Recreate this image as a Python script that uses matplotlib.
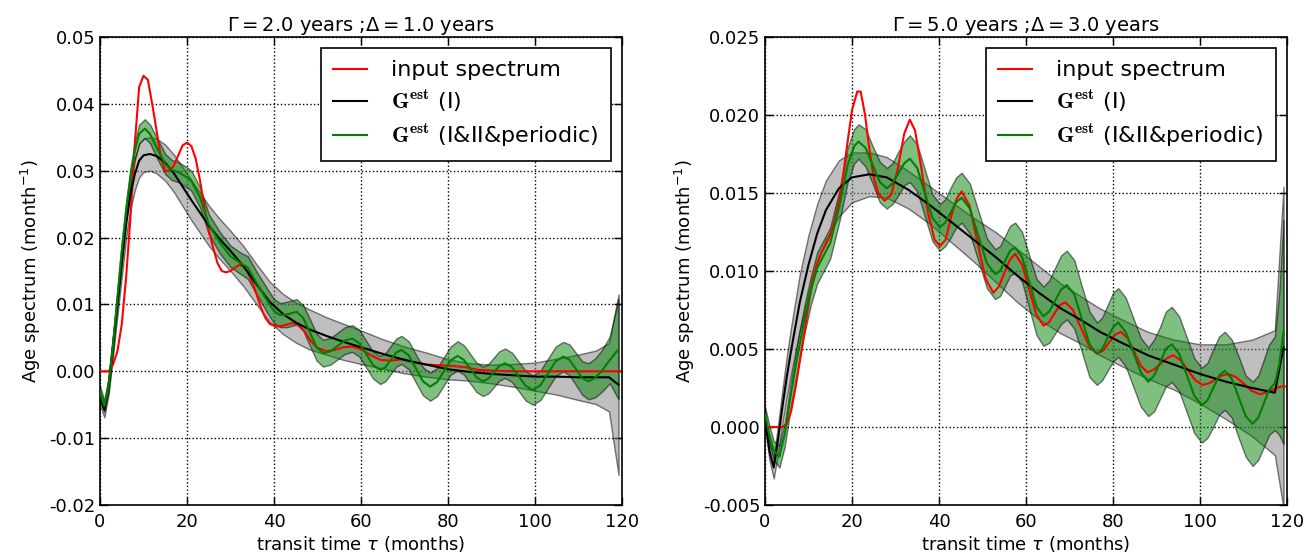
import matplotlib
matplotlib.use("Agg")
import matplotlib.pyplot as plt
from matplotlib.ticker import FormatStrFormatter
import numpy as np

# ---------------- Left panel data (Gamma=2, Delta=1) ----------------
L_red_x = [0, 2, 3, 4, 5, 6, 7, 8, 9, 10, 11, 12, 13, 14, 15, 16, 17, 18, 19, 20,
           21, 22, 23, 24, 25, 26, 27, 28, 29, 30, 31, 32, 33, 34, 35, 36, 37, 38, 39, 40.5,
           42, 44, 45.5, 47, 48.5, 50, 52, 54, 56, 58, 60, 62, 64.5, 67, 69.5, 72, 75, 78, 81, 84,
           87, 90, 95, 119.5]
L_red_y = [0, 0, 0.001, 0.003, 0.007, 0.014, 0.023, 0.034, 0.0425, 0.0442,
           0.0436, 0.040, 0.036, 0.032, 0.0300, 0.0300, 0.0308, 0.0323, 0.0338, 0.0342,
           0.0337, 0.0318, 0.0285, 0.0245, 0.0210, 0.0185, 0.0162, 0.0150, 0.0148, 0.0150,
           0.0155, 0.0159, 0.0157, 0.0148, 0.0133, 0.0115, 0.0095, 0.0080, 0.0071, 0.0067,
           0.0068, 0.0072, 0.0070, 0.0060, 0.0045, 0.0035, 0.0030, 0.0032, 0.0036, 0.0037,
           0.0033, 0.0025, 0.0017, 0.0016, 0.0018, 0.0014, 0.0010, 0.0009, 0.0008, 0.0006,
           0.0002, 0.0001, 0.0, 0.0]

L_blk_x = [0, 1, 2, 3, 4, 5, 6, 7, 8, 9, 10, 11.5, 13, 15, 17, 19, 21, 23, 25, 27.5,
           30, 33, 36, 39, 42, 45, 48, 52, 56, 60, 65, 70, 75, 80, 85, 90, 95, 100, 105, 110,
           114, 117, 119.2]
L_blk_y = [-0.004, -0.0058, -0.002, 0.004, 0.010, 0.016, 0.022, 0.0265, 0.0295, 0.0315,
           0.0323, 0.0325, 0.0322, 0.0312, 0.0296, 0.0276, 0.0256, 0.0237, 0.0218, 0.0198,
           0.0180, 0.0157, 0.0130, 0.0104, 0.0086, 0.0073, 0.0063, 0.0053, 0.0044, 0.0036,
           0.0026, 0.0017, 0.0010, 0.0003, -0.0001, -0.0004, -0.0006, -0.0008, -0.0008, -0.0009,
           -0.0009, -0.0009, -0.002]
L_blk_err = [0.001, 0.0011, 0.0013, 0.0015, 0.0017, 0.0019, 0.0021, 0.0023, 0.0024, 0.0025,
             0.0025, 0.0025, 0.0026, 0.0027, 0.0028, 0.0029, 0.003, 0.003, 0.003, 0.003,
             0.003, 0.003, 0.003, 0.003, 0.003, 0.003, 0.003, 0.0028, 0.0027, 0.0025,
             0.0022, 0.002, 0.0018, 0.0015, 0.0013, 0.0014, 0.0017, 0.0021, 0.0027, 0.0034,
             0.0040, 0.0051, 0.0135]

L_grn_x = [0, 1, 2, 3, 4, 5, 6, 7, 8, 9,
           10.3, 11.5, 13, 15, 16.5, 18, 20, 21, 23, 25,
           27.6, 30, 32.2, 34, 36, 38.5, 40, 41.4, 43, 45.2,
           46.7, 48.25, 49.8, 51.3, 53, 54.65, 56.3, 58, 59.6, 61.2,
           62.8, 64.4, 65.6, 66.85, 68.1, 69.3, 70.95, 72.6, 74.25, 75.9,
           77.5, 79.05, 80.6, 82.2, 83.65, 85.1, 86.55, 88, 89.3, 90.55,
           91.8, 93.1, 94.7, 96.3, 97.9, 99.5, 101.25, 103, 104.75, 106.5,
           107.95, 109.4, 110.85, 112.3, 113.8, 115.3, 117.2, 119.2]
L_grn_y = [-0.003, -0.0052, -0.002, 0.004, 0.011, 0.018, 0.024, 0.029, 0.033, 0.0355,
           0.0363, 0.0355, 0.0335, 0.031, 0.0301, 0.0298, 0.029, 0.0285, 0.026, 0.022,
           0.0192, 0.0172, 0.0162, 0.0155, 0.0132, 0.0105, 0.0090, 0.0084, 0.0085, 0.0089,
           0.0080, 0.0058, 0.0036, 0.0027, 0.0030, 0.0038, 0.0046, 0.0049, 0.0042, 0.00255,
           0.0009, 0.0002, 0.0006, 0.0017, 0.0028, 0.0032, 0.0024, 0.00045, -0.0015, -0.0023,
           -0.0016, 0.0, 0.0016, 0.0023, 0.0017, 0.0004, -0.0009, -0.0015, -0.0011, -0.00015,
           0.0008, 0.0012, 0.0006, -0.0008, -0.0022, -0.0028, -0.0021, -0.0003, 0.0015, 0.0022,
           0.0017, 0.00035, -0.0010, -0.0015, -0.0010, 0.0, 0.0017, 0.0033]
L_grn_err = [0.0008, 0.0009, 0.001, 0.0011, 0.0012, 0.0013, 0.0013, 0.0014, 0.0014, 0.0014,
             0.0014, 0.0014, 0.0015, 0.0015, 0.0015, 0.0015, 0.0015, 0.0015, 0.0015, 0.0015,
             0.0016, 0.0016, 0.0016, 0.0017, 0.0017, 0.0018, 0.0018, 0.0018, 0.0019, 0.0019,
             0.0019, 0.002, 0.002, 0.002, 0.002, 0.002, 0.002, 0.002, 0.002, 0.002,
             0.002, 0.0021, 0.0021, 0.0021, 0.0021, 0.0021, 0.0021, 0.0021, 0.0021, 0.0021,
             0.0021, 0.0021, 0.0021, 0.0022, 0.0022, 0.0022, 0.0022, 0.0022, 0.0022, 0.0022,
             0.0022, 0.0022, 0.0022, 0.0022, 0.0022, 0.0022, 0.0022, 0.0022, 0.0022, 0.0022,
             0.0023, 0.0024, 0.0025, 0.0027, 0.0029, 0.0031, 0.0035, 0.0075]

# ---------------- Right panel data (Gamma=5, Delta=3) ----------------
R_red_x = [0, 4, 5, 6, 7, 8, 9, 10, 11, 12,
           13, 14, 15, 16, 17, 18, 19, 20, 21.2, 22,
           23, 24, 25, 26, 27.5, 29, 30.5, 32, 33.3, 34.5,
           36, 37.5, 39, 40.2, 41.5, 43, 44, 45.2, 47.0, 48.85,
           50.7, 52.5, 53.75, 55.0, 56.25, 57.5, 59.1, 60.75, 62.4, 64,
           65.25, 66.5, 67.75, 69, 70.8, 72.65, 74.5, 76.3, 77.7, 79.05,
           80.4, 81.8, 83.35, 84.9, 86.45, 88, 89.45, 90.9, 92.35, 93.8,
           95.5, 97.2, 98.9, 100.6, 102.1, 103.55, 105.0, 106.5, 108.3, 110.15,
           112.0, 113.8, 115.05, 116.3, 117.55, 118.8, 119.5]
R_red_y = [0, 0, 0.0002, 0.001, 0.0025, 0.0042, 0.006, 0.0078, 0.0095, 0.0105,
           0.0112, 0.0117, 0.0123, 0.0132, 0.0145, 0.0162, 0.0183, 0.0203, 0.0215, 0.0215,
           0.0200, 0.0178, 0.0160, 0.0150, 0.0145, 0.0149, 0.0165, 0.0188, 0.0197, 0.0190,
           0.0165, 0.0137, 0.0120, 0.0116, 0.0120, 0.0137, 0.0146, 0.0151, 0.0142, 0.01185,
           0.0095, 0.0086, 0.0090, 0.00985, 0.0107, 0.0111, 0.0104, 0.0088, 0.0072, 0.0065,
           0.0067, 0.00725, 0.0078, 0.0080, 0.0075, 0.00635, 0.0052, 0.0047, 0.0049, 0.0054,
           0.0059, 0.0061, 0.0057, 0.0048, 0.0039, 0.0035, 0.0037, 0.00405, 0.0044, 0.0046,
           0.0043, 0.00365, 0.0030, 0.0027, 0.0028, 0.00305, 0.0033, 0.0034, 0.0032, 0.00275,
           0.0023, 0.0021, 0.0022, 0.00235, 0.0025, 0.0026, 0.0026]

R_blk_x = [0, 1, 2, 3, 4, 5, 6, 8, 10, 12, 14, 17, 20, 24, 28, 33, 38, 43, 48, 53,
           58, 63, 68, 73, 77, 82, 88, 94, 100, 106, 112, 117.2, 119.2]
R_blk_y = [0.0005, -0.0015, -0.0026, -0.0008, 0.0013, 0.0032, 0.0049, 0.0080, 0.0104, 0.0124,
           0.0139, 0.0153, 0.0160, 0.0162, 0.0160, 0.0152, 0.0142, 0.0131, 0.0120, 0.0109,
           0.0097, 0.0086, 0.0076, 0.0068, 0.0061, 0.0054, 0.0046, 0.0040, 0.0034, 0.0029,
           0.0025, 0.0022, 0.0051]
R_blk_err = [0.0005, 0.0006, 0.0007, 0.0009, 0.0011, 0.0013, 0.0015, 0.0018, 0.0019, 0.0019,
             0.0019, 0.0018, 0.0016, 0.0014, 0.0013, 0.0012, 0.0012, 0.0013, 0.0014, 0.0016,
             0.0017, 0.0017, 0.0016, 0.0015, 0.0015, 0.0015, 0.0015, 0.0016, 0.0019, 0.0024,
             0.0031, 0.004, 0.0103]

R_grn_x = [0, 1, 2, 3.3, 4.5, 6, 7.7, 9, 10.5, 12,
           13.5, 15, 17.2, 19, 20.5, 21.5, 23.1, 24.75, 26.4, 28,
           29.3, 30.65, 32.0, 33.3, 35.0, 36.75, 38.5, 40.2, 41.45, 42.7,
           43.95, 45.2, 47.1, 49.05, 51.0, 52.9, 54.05, 55.2, 56.35, 57.5,
           59.1, 60.75, 62.4, 64, 65.35, 66.7, 68.05, 69.4, 71.1, 72.85,
           74.6, 76.3, 77.5, 78.75, 80.0, 81.2, 82.9, 84.65, 86.4, 88.1,
           89.45, 90.8, 92.15, 93.5, 95.2, 96.95, 98.7, 100.4, 101.7, 103.05,
           104.4, 105.7, 107.3, 108.9, 110.5, 112.1, 113.4, 114.65, 115.9, 117.2,
           118.2, 119.2]
R_grn_y = [0.0008, -0.0005, -0.0015, -0.0019, -0.0005, 0.0022, 0.0049, 0.0068, 0.0087, 0.0102,
           0.011, 0.0118, 0.0143, 0.0168, 0.018, 0.0183, 0.0179, 0.0168, 0.0157, 0.0153,
           0.0156, 0.01625, 0.0169, 0.0172, 0.0166, 0.0150, 0.0134, 0.0128, 0.0131, 0.01375,
           0.0144, 0.0147, 0.0140, 0.01225, 0.0105, 0.0098, 0.0100, 0.01065, 0.0113, 0.0115,
           0.0109, 0.0093, 0.0077, 0.0071, 0.0074, 0.0081, 0.0088, 0.0091, 0.0085, 0.0069,
           0.0053, 0.0047, 0.0050, 0.0057, 0.0064, 0.0067, 0.0061, 0.0048, 0.0035, 0.0029,
           0.0033, 0.0041, 0.0050, 0.0053, 0.0047, 0.00335, 0.0020, 0.0014, 0.0017, 0.0025,
           0.0033, 0.0036, 0.0031, 0.0019, 0.0007, 0.0002, 0.0006, 0.0015, 0.0024, 0.0028,
           0.0040, 0.0061]
R_grn_err = [0.0005, 0.0006, 0.0006, 0.0007, 0.0008, 0.0008, 0.0009, 0.0009, 0.0009, 0.001,
             0.001, 0.001, 0.001, 0.0011, 0.0011, 0.0011, 0.0012, 0.0012, 0.0013, 0.0013,
             0.0013, 0.0014, 0.0014, 0.0015, 0.0015, 0.0015, 0.0015, 0.0015, 0.0015, 0.0016,
             0.0016, 0.0016, 0.0016, 0.0016, 0.0016, 0.0016, 0.0016, 0.0016, 0.0016, 0.0016,
             0.0016, 0.0017, 0.0018, 0.0019, 0.002, 0.0021, 0.0022, 0.0022, 0.0022, 0.0021,
             0.0021, 0.002, 0.002, 0.0021, 0.0022, 0.0022, 0.0022, 0.0022, 0.0022, 0.0022,
             0.0023, 0.0023, 0.0024, 0.0024, 0.0024, 0.0024, 0.0024, 0.0024, 0.0024, 0.0025,
             0.0025, 0.0025, 0.0025, 0.0026, 0.0026, 0.0027, 0.0027, 0.0028, 0.0029, 0.003,
             0.0045, 0.0072]

titles = [r'$\Gamma=2.0$ years ;$\Delta=1.0$ years', r'$\Gamma=5.0$ years ;$\Delta=3.0$ years']
legend_labels = ['input spectrum', r'$\mathbf{G^{est}}$ (I)', r'$\mathbf{G^{est}}$ (I&II&periodic)']
xticks = [0, 20, 40, 60, 80, 100, 120]
L_yticks = [-0.02, -0.01, 0.0, 0.01, 0.02, 0.03, 0.04, 0.05]
R_yticks = [-0.005, 0.0, 0.005, 0.010, 0.015, 0.020, 0.025]

plt.rcParams['font.family'] = ['DejaVu Sans']
plt.rcParams['mathtext.fontset'] = 'dejavusans'
plt.rcParams['axes.unicode_minus'] = False

fig = plt.figure(figsize=(13.07, 5.52), dpi=100)
ax1 = fig.add_axes([100/1307, 1-505/552, 522/1307, 468/552])
ax2 = fig.add_axes([765/1307, 1-505/552, 522/1307, 468/552])

panels = [
    (ax1, L_red_x, L_red_y, L_blk_x, L_blk_y, L_blk_err, L_grn_x, L_grn_y, L_grn_err, L_yticks, '%.2f', titles[0]),
    (ax2, R_red_x, R_red_y, R_blk_x, R_blk_y, R_blk_err, R_grn_x, R_grn_y, R_grn_err, R_yticks, '%.3f', titles[1]),
]

for (ax, rx, ry, bx, by, be, gx, gy, ge, yt, fmt, title) in panels:
    bx = np.array(bx); by = np.array(by); be = np.array(be)
    gx = np.array(gx); gy = np.array(gy); ge = np.array(ge)
    ax.fill_between(bx, by - be, by + be, facecolor='grey', edgecolor='k', alpha=0.5, lw=1, zorder=2)
    ax.fill_between(gx, gy - ge, gy + ge, facecolor='g', edgecolor='k', alpha=0.5, lw=1, zorder=3)
    ax.plot(rx, ry, color='r', lw=1.5, label=legend_labels[0], zorder=4)
    ax.plot(bx, by, color='k', lw=1.5, label=legend_labels[1], zorder=5)
    ax.plot(gx, gy, color='g', lw=1.5, label=legend_labels[2], zorder=6)
    ax.set_xlim(0, 120)
    ax.set_ylim(yt[0], yt[-1])
    ax.set_xticks(xticks)
    ax.set_yticks(yt)
    ax.yaxis.set_major_formatter(FormatStrFormatter(fmt))
    ax.tick_params(which='both', direction='in', top=True, right=True, labelsize=13)
    ax.tick_params(which='major', length=6, width=1)
    ax.tick_params(axis='x', pad=6)
    ax.grid(True, which='major', linestyle=':', color='k', lw=1)
    ax.set_axisbelow(True)
    for s in ax.spines.values():
        s.set_linewidth(1.2)
    ax.set_xlabel(r'transit time $\tau$ (months)', fontsize=13, labelpad=2)
    ax.set_ylabel(r'Age spectrum (month$^{-1}$)', fontsize=13)
    ax.set_title(title, fontsize=14, pad=4)
    leg = ax.legend(loc='upper right', fontsize=16, fancybox=False, framealpha=1,
                    edgecolor='k', handlelength=1.5, handletextpad=1.1, borderpad=0.55,
                    labelspacing=0.35)
    leg.get_frame().set_linewidth(1.2)
    for t in leg.get_texts():
        t.set_math_fontfamily('cm')

fig.savefig('out.png', dpi=100)
